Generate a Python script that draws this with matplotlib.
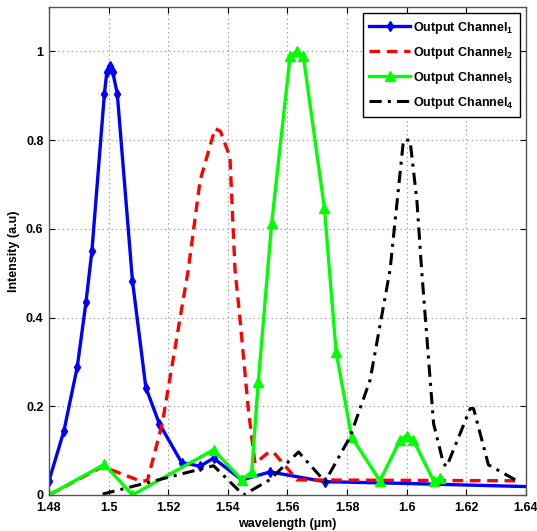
import matplotlib
matplotlib.use("Agg")
import matplotlib.pyplot as plt

plt.rcParams['font.family'] = ['Liberation Sans', 'DejaVu Sans']
plt.rcParams['mathtext.fontset'] = 'custom'
plt.rcParams['mathtext.bf'] = 'Liberation Sans:bold'
plt.rcParams['mathtext.rm'] = 'Liberation Sans'

# Data
ch1_x = [1.48, 1.485, 1.4895, 1.4924, 1.4944, 1.4986, 1.4994, 1.5005, 1.5014, 1.5029,
         1.508, 1.5125, 1.517, 1.5245, 1.5307, 1.5352, 1.5447, 1.5542, 1.5726, 1.60, 1.64]
ch1_y = [0.032, 0.144, 0.289, 0.434, 0.55, 0.905, 0.953, 0.968, 0.953, 0.905,
         0.483, 0.242, 0.161, 0.073, 0.065, 0.083, 0.034, 0.052, 0.030, 0.026, 0.019]

ch2_x = [1.48, 1.498, 1.5105, 1.513, 1.518, 1.5267, 1.5307, 1.5357, 1.5375, 1.5407,
         1.5424, 1.5439, 1.5469, 1.5491, 1.5538, 1.5555, 1.5632, 1.637]
ch2_y = [0.0, 0.064, 0.032, 0.032, 0.161, 0.507, 0.709, 0.826, 0.82, 0.762,
         0.507, 0.409, 0.191, 0.071, 0.097, 0.095, 0.034, 0.032]

ch3_x = [1.48, 1.4986, 1.508, 1.5352, 1.5447, 1.548, 1.5502, 1.5547, 1.5609, 1.5631,
         1.5653, 1.5724, 1.5763, 1.5815, 1.591, 1.5978, 1.60, 1.6022, 1.609, 1.6112]
ch3_y = [0.0, 0.069, 0.0, 0.102, 0.034, 0.052, 0.255, 0.613, 0.99, 1.0,
         0.99, 0.646, 0.323, 0.131, 0.032, 0.124, 0.134, 0.124, 0.032, 0.038]

ch4_x = [1.498, 1.5352, 1.5452, 1.554, 1.5637, 1.5726, 1.581, 1.5877, 1.5944, 1.5989,
         1.6011, 1.6034, 1.605, 1.609, 1.6123, 1.6134, 1.6213, 1.6224, 1.6274, 1.637]
ch4_y = [0.002, 0.066, 0.0, 0.034, 0.097, 0.030, 0.131, 0.259, 0.507, 0.80,
         0.80, 0.664, 0.507, 0.161, 0.071, 0.064, 0.195, 0.195, 0.068, 0.032]

labels = [r'Output Channel$_\mathbf{1}$', r'Output Channel$_\mathbf{2}$',
          r'Output Channel$_\mathbf{3}$', r'Output Channel$_\mathbf{4}$']

x_ticks = [1.48, 1.50, 1.52, 1.54, 1.56, 1.58, 1.60, 1.62, 1.64]
x_tick_labels = ['1.48', '1.5', '1.52', '1.54', '1.56', '1.58', '1.6', '1.62', '1.64']
y_ticks = [0, 0.2, 0.4, 0.6, 0.8, 1.0]
y_tick_labels = ['0', '0.2', '0.4', '0.6', '0.8', '1']

fig = plt.figure(figsize=(5.37, 5.31), dpi=100)
ax = fig.add_axes([0.0912, 0.0678, 0.8883, 0.919])

ax.plot(ch1_x, ch1_y, '-', color='#0000FF', lw=2.4, marker='d', ms=5,
        markevery=list(range(len(ch1_x) - 2)), label=labels[0])
ax.plot(ch2_x, ch2_y, '--', color='#FF0000', lw=2.4, dashes=(3.2, 2), label=labels[1])
ax.plot(ch3_x, ch3_y, '-', color='#00FF00', lw=2.4, marker='^', ms=7, label=labels[2])
ax.plot(ch4_x, ch4_y, '-.', color='black', lw=2.2, dashes=(4, 2, 1, 2), label=labels[3])

ax.set_xlim(1.48, 1.64)
ax.set_ylim(0, 1.1)
ax.set_xticks(x_ticks)
ax.set_xticklabels(x_tick_labels)
ax.set_yticks(y_ticks)
ax.set_yticklabels(y_tick_labels)
ax.grid(True, linestyle=(0, (1, 3)), color='#888888', lw=0.8)
ax.tick_params(direction='in', top=True, right=True, length=4, width=0.8,
               labelsize=9, colors='black')
ax.tick_params(axis='x', pad=5)
ax.tick_params(axis='y', pad=4)
for lab in ax.get_xticklabels() + ax.get_yticklabels():
    lab.set_fontweight('bold')
for s in ax.spines.values():
    s.set_color('#555555')
    s.set_linewidth(1.0)

ax.set_xlabel('wavelength (\u00b5m)', fontsize=9, fontweight='bold', labelpad=3)
ax.set_ylabel('Intensity (a.u)', fontsize=9, fontweight='bold', labelpad=4)

leg = ax.legend(loc='upper right', bbox_to_anchor=(1.0, 1.0), prop={'weight': 'bold', 'size': 9},
                handlelength=3.3, handletextpad=0.2, labelspacing=0.72,
                fancybox=False, framealpha=1, edgecolor='black', borderpad=0.5)
leg.get_frame().set_linewidth(1.0)

fig.savefig('out.png', dpi=100)
